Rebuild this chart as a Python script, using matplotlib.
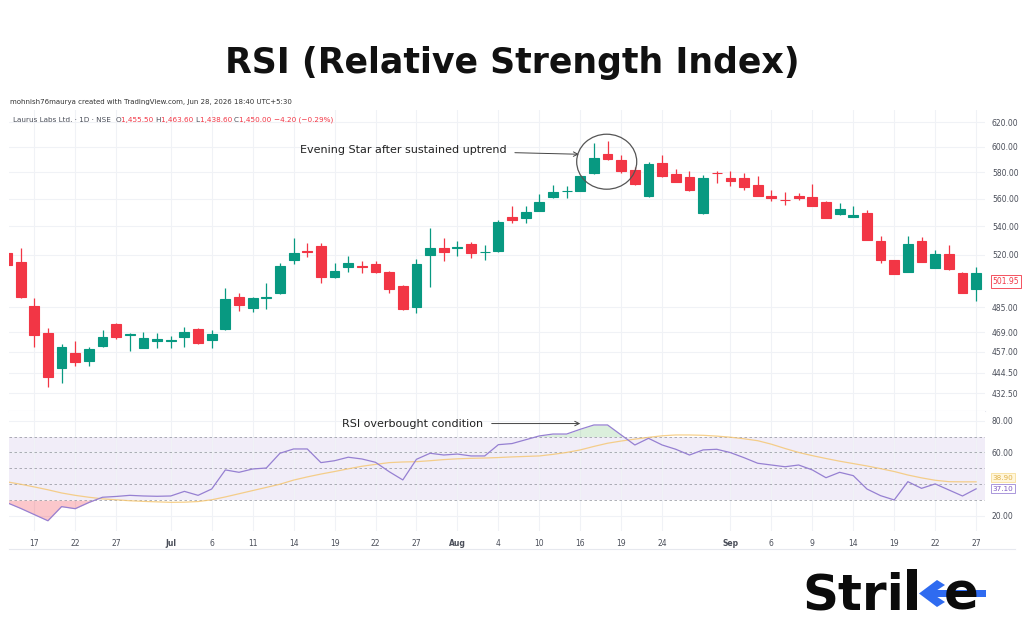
import numpy as np
import matplotlib.pyplot as plt
from matplotlib.patches import Ellipse, Polygon, Rectangle
from matplotlib.ticker import FixedLocator, FixedFormatter, NullLocator
import matplotlib.transforms as mtransforms

plt.rcParams['font.family'] = ['DejaVu Sans']

# daily candles
opens = [521.4, 515.2, 485.7, 468.8, 447.5, 456.1, 451.5, 460.5, 474.3, 467.2,
         459.5, 463.6, 463.5, 466.1, 471.1, 464.2, 470.9, 491.5, 484.2, 490.7,
         494.0, 516.3, 522.5, 526.0, 504.6, 511.3, 512.4, 513.7, 508.4, 498.8,
         485.0, 519.6, 524.8, 524.7, 527.4, 521.6, 522.5, 546.5, 545.7, 551.1,
         561.2, 565.6, 565.9, 579.4, 594.2, 589.7, 581.9, 562.2, 587.1, 578.8,
         576.3, 549.4, 579.6, 575.5, 576.0, 570.4, 562.4, 559.2, 562.2, 561.7,
         557.9, 548.6, 547.0, 549.8, 529.5, 516.3, 508.0, 529.5, 510.7, 520.4,
         507.7, 496.6]
highs = [522.0, 524.4, 490.7, 471.5, 461.8, 463.6, 460.1, 470.5, 474.7, 468.8,
         469.1, 468.3, 466.5, 472.1, 471.5, 470.5, 497.3, 494.4, 491.5, 501.0,
         514.1, 531.4, 528.3, 528.3, 514.1, 519.1, 515.8, 515.6, 509.0, 499.2,
         516.8, 539.0, 531.4, 529.7, 528.9, 526.7, 544.5, 554.7, 554.7, 563.6,
         570.4, 569.7, 577.6, 603.4, 605.0, 593.4, 584.0, 588.4, 593.4, 582.7,
         581.4, 578.1, 581.4, 581.4, 579.4, 577.3, 566.6, 565.4, 564.2, 571.2,
         558.2, 557.2, 554.7, 551.6, 533.1, 516.5, 533.1, 532.3, 523.2, 526.7,
         508.0, 511.7]
lows = [512.5, 491.0, 460.1, 436.1, 438.3, 448.5, 448.5, 460.1, 464.9, 457.7,
        459.2, 459.2, 459.2, 459.8, 461.6, 459.2, 470.5, 482.7, 482.0, 483.5,
        493.8, 513.8, 518.6, 500.6, 504.3, 508.4, 507.7, 507.3, 494.0, 483.0,
        481.4, 498.3, 515.6, 519.3, 517.5, 516.3, 522.0, 542.6, 542.6, 550.8,
        560.8, 560.4, 565.5, 579.0, 590.0, 579.4, 570.4, 561.2, 576.5, 572.5,
        565.9, 548.7, 571.7, 569.7, 566.6, 562.0, 558.6, 555.5, 559.0, 554.8,
        546.0, 548.3, 546.8, 530.0, 514.5, 506.5, 507.8, 515.0, 510.5, 509.8,
        494.0, 489.1]
closes = [513.1, 491.7, 467.4, 442.1, 460.1, 451.1, 458.7, 465.9, 466.3, 468.0,
          465.7, 464.7, 464.5, 469.1, 462.2, 468.2, 490.1, 486.1, 491.1, 491.7,
          512.2, 521.4, 522.0, 504.6, 509.0, 514.1, 511.7, 508.4, 496.6, 483.5,
          513.7, 524.4, 522.1, 525.6, 521.4, 522.1, 543.3, 544.5, 550.5, 557.9,
          564.9, 566.1, 577.3, 591.0, 590.2, 581.4, 571.2, 586.3, 577.3, 572.9,
          566.6, 576.0, 579.2, 573.5, 568.7, 562.4, 560.4, 558.9, 560.4, 555.0,
          546.2, 552.3, 548.1, 530.2, 516.3, 506.8, 527.2, 515.2, 520.4, 510.0,
          494.4, 507.7]

# RSI(14) and its moving average
rsi = [28.4, 24.8, 20.9, 17.0, 25.9, 24.6, 28.5, 31.8, 32.3, 33.0,
       32.6, 32.4, 32.6, 35.5, 33.0, 37.0, 49.0, 47.5, 49.6, 50.2,
       59.5, 62.2, 62.2, 53.6, 54.8, 57.0, 55.9, 53.8, 47.9, 42.7,
       55.7, 59.5, 58.4, 59.0, 57.8, 57.8, 64.9, 65.6, 68.0, 70.4,
       71.6, 71.6, 74.6, 77.3, 77.3, 71.0, 64.7, 68.9, 64.7, 62.0,
       58.4, 61.6, 62.0, 59.9, 56.7, 53.2, 52.1, 51.0, 52.1, 49.0,
       44.1, 47.5, 45.4, 37.0, 32.8, 30.1, 41.6, 37.4, 40.2, 36.4,
       32.6, 37.1]
rsi_ma = [41.5, 40.0, 38.3, 36.5, 34.5, 33.0, 31.8, 30.8, 30.2, 29.6,
          29.2, 28.9, 28.6, 28.7, 29.1, 30.2, 32.0, 34.0, 36.0, 38.0,
          40.0, 42.6, 44.6, 46.4, 48.0, 49.7, 51.3, 52.5, 53.6, 54.0,
          54.2, 54.8, 55.5, 56.0, 56.3, 56.5, 56.8, 57.2, 57.5, 57.8,
          58.8, 60.0, 61.6, 63.8, 65.8, 67.2, 68.4, 69.5, 70.5, 71.0,
          71.0, 70.8, 70.3, 69.6, 68.6, 67.4, 65.2, 62.5, 60.0, 58.0,
          56.2, 54.5, 53.0, 51.5, 49.8, 48.0, 45.8, 44.0, 42.5, 41.6,
          41.5, 41.5]

price_ticks = [432.5, 444.5, 457, 469, 485, 520, 540, 560, 580, 600, 620]
rsi_ticks = [20, 60, 80]
rsi_levels = [30, 40, 50, 60, 70]
date_pos = [2, 5, 8, 12, 15, 18, 21, 24, 27, 30, 33, 36, 39, 42, 45, 48,
            53, 56, 59, 62, 65, 68, 71]
date_labels = ['17', '22', '27', 'Jul', '6', '11', '14', '19', '22', '27', 'Aug',
               '4', '10', '16', '19', '24', 'Sep', '6', '9', '14', '19', '22', '27']
last_price = 501.95
rsi_last = '37.10'
ma_last = '38.90'

UP = '#089981'
DOWN = '#F23645'
GRID = '#F0F2F6'
TXT = '#4A4E59'

W, H = 1024, 640
fig = plt.figure(figsize=(W / 100, H / 100), dpi=100)
fig.patch.set_facecolor('white')

def frac(x0, y0, x1, y1):
    # pixel box (top-left origin) -> figure fraction rect
    return [x0 / W, 1 - y1 / H, (x1 - x0) / W, (y1 - y0) / H]

def fx(px):
    return px / W

def fy(py):
    return 1 - py / H

ax = fig.add_axes(frac(9, 110, 985, 411))
ax2 = fig.add_axes(frac(9, 411, 985, 531), sharex=ax)

n = len(opens)
x = np.arange(n)
o = np.array(opens)
c = np.array(closes)
up = c >= o
cols = np.where(up, UP, DOWN)

ax.set_yscale('log')
ax.vlines(x, lows, highs, color=cols, linewidth=0.9, zorder=2)
ax.bar(x, np.abs(c - o), bottom=np.minimum(o, c), width=0.72, color=cols,
       edgecolor=cols, linewidth=0.8, zorder=3)

ax.set_xlim(0.15, 71.65)
ax.set_ylim(422.4, 630.2)
ax.yaxis.set_major_locator(FixedLocator(price_ticks))
ax.yaxis.set_major_formatter(FixedFormatter([f'{t:.2f}' for t in price_ticks]))
ax.yaxis.set_minor_locator(NullLocator())
ax.yaxis.tick_right()
ax.tick_params(axis='y', length=0, labelsize=5.5, labelcolor=TXT, pad=5)
ax.tick_params(axis='x', length=0, labelbottom=False)
ax.set_xticks(date_pos)
ax.grid(True, color=GRID, linewidth=0.8, zorder=0)
for s in ax.spines.values():
    s.set_visible(False)
ax.spines['bottom'].set_visible(True)
ax.spines['bottom'].set_color('#E6E8EE')
ax.spines['bottom'].set_linewidth(0.8)

# last price tag
tr = mtransforms.blended_transform_factory(ax.transAxes, ax.transData)
ax.text(1.008, last_price, f'{last_price:.2f}', transform=tr, fontsize=5.5,
        color=DOWN, va='center', ha='left', clip_on=False,
        bbox=dict(boxstyle='square,pad=0.25', fc='white', ec=DOWN, lw=0.6))

# annotations on price pane
ax.annotate('Evening Star after sustained uptrend', xy=(41.9, 594.2),
            xytext=(36.6, 597.6), fontsize=8, color='#222222',
            ha='right', va='center',
            arrowprops=dict(arrowstyle='->', color='#444444', lw=0.7,
                            shrinkA=4, shrinkB=0))
ax.add_patch(Ellipse((0.6124, 0.8282), 0.0615, 0.1827, transform=ax.transAxes,
                     fill=False, ec='#555555', lw=0.9, zorder=5))

# header lines
fig.text(fx(10), fy(102),
         'mohnish76maurya created with TradingView.com, Jun 28, 2026 18:40 UTC+5:30',
         fontsize=5, color='#333333', va='center')
parts = [('Laurus Labs Ltd. · 1D · NSE  ', '#4A4E59'), ('O', '#4A4E59'),
         ('1,455.50 ', DOWN), ('H', '#4A4E59'), ('1,463.60 ', DOWN),
         ('L', '#4A4E59'), ('1,438.60 ', DOWN), ('C', '#4A4E59'),
         ('1,450.00 ', DOWN), ('−4.20 (−0.29%)', DOWN)]
prev = fig.text(fx(13), fy(120), parts[0][0], fontsize=5.2,
                color=parts[0][1], va='center')
for s, col in parts[1:]:
    prev = ax.annotate(s, xy=(1, 0.5), xycoords=prev, fontsize=5.2, color=col,
                       va='center', ha='left', annotation_clip=False)

# RSI pane
ax2.axhspan(30, 70, color='#7E57C2', alpha=0.1, lw=0, zorder=0)
for lv in rsi_levels:
    ax2.axhline(lv, color='#8A8D96', lw=0.6, ls=(0, (3, 3)), alpha=0.8, zorder=2.5)
r = np.array(rsi)
ax2.fill_between(x, r, 70, where=r > 70, interpolate=True, color='#4CAF50',
                 alpha=0.2, lw=0, zorder=2)
ax2.fill_between(x, r, 30, where=r < 30, interpolate=True, color='#F23645',
                 alpha=0.28, lw=0, zorder=2)
ax2.plot(x, rsi_ma, color='#F5C56E', lw=0.9, alpha=0.8, zorder=3)
ax2.plot(x, rsi, color='#9680D2', lw=0.9, zorder=4)
ax2.set_ylim(10.55, 86.1)
ax2.set_yticks(rsi_ticks)
ax2.set_yticklabels([f'{t:.2f}' for t in rsi_ticks])
ax2.yaxis.tick_right()
ax2.tick_params(axis='y', length=0, labelsize=5.5, labelcolor=TXT, pad=5)
ax2.set_xticks(date_pos)
ax2.set_xticklabels(date_labels)
ax2.tick_params(axis='x', length=0, labelsize=5.5, labelcolor=TXT, pad=6)
for lab in ax2.get_xticklabels():
    if lab.get_text() in ('Jul', 'Aug', 'Sep'):
        lab.set_fontweight('bold')
ax2.grid(True, color=GRID, linewidth=0.8, zorder=0)
for s in ax2.spines.values():
    s.set_visible(False)

tr2 = mtransforms.blended_transform_factory(ax2.transAxes, ax2.transData)
ax2.text(1.008, 44.0, ma_last, transform=tr2, fontsize=5.2, color='#E0B24A',
         va='center', ha='left', clip_on=False,
         bbox=dict(boxstyle='square,pad=0.2', fc='#FFF6DC', ec='#F5D98B', lw=0.5))
ax2.text(1.008, 37.1, rsi_last, transform=tr2, fontsize=5.2, color='#7E57C2',
         va='center', ha='left', clip_on=False,
         bbox=dict(boxstyle='square,pad=0.2', fc='white', ec='#9C87D6', lw=0.6))

ax2.annotate('RSI overbought condition', xy=(42.0, 78.2), xytext=(34.9, 78.2),
             fontsize=8, color='#222222', ha='right', va='center',
             arrowprops=dict(arrowstyle='->', color='#444444', lw=0.7,
                             shrinkA=4, shrinkB=0))

# bottom border of chart block
fig.add_artist(plt.Line2D([fx(9), fx(1015)], [fy(549), fy(549)],
                          color='#E6E8EE', lw=0.8))

# title
fig.text(0.5, fy(63), 'RSI (Relative Strength Index)', ha='center',
         va='center', fontsize=25, fontweight='bold', color='#111111')

# Strike logo: "Stri" + k stem, blue arrow, "e"
fig.text(fx(802), fy(610), 'Stri', ha='left', va='baseline', fontsize=36,
         fontweight='heavy', color='#0B0B0B')
fig.add_artist(Rectangle((fx(907), fy(610)), fx(10), 41 / H, fc='#0B0B0B',
                         ec='none', transform=fig.transFigure))
fig.text(fx(944), fy(610), 'e', ha='left', va='baseline', fontsize=37,
         fontweight='heavy', color='#0B0B0B')
blue = '#2F6BF0'
fig.add_artist(Polygon([[fx(930), fy(590)], [fx(986), fy(590)],
                        [fx(986), fy(597)], [fx(930), fy(597)]],
                       closed=True, fc=blue, ec='none', transform=fig.transFigure))
fig.add_artist(Polygon([[fx(937), fy(580)], [fx(945), fy(585)],
                        [fx(932), fy(593.5)], [fx(945), fy(602)],
                        [fx(937), fy(607)], [fx(919), fy(593.5)]],
                       closed=True, fc=blue, ec='none', transform=fig.transFigure))

fig.savefig('out.png', dpi=100, facecolor='white')
